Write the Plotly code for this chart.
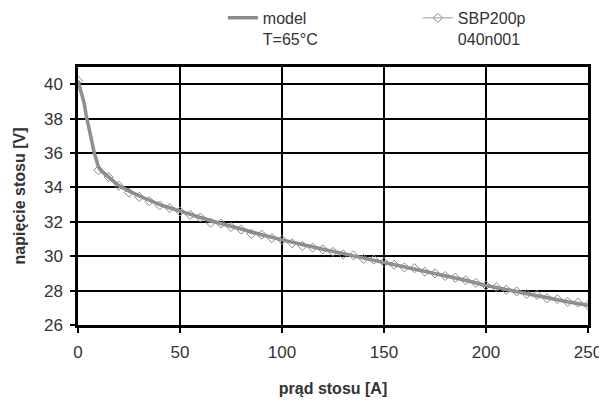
import plotly.graph_objects as go

# model curve, T=65 C
model_i = [0, 1, 2, 3, 4, 5, 6, 7, 8, 9, 10, 12, 15, 20, 25, 30, 40, 50, 60, 70, 80,
           90, 100, 110, 120, 130, 140, 150, 160, 170, 180, 190, 200, 210, 220, 230, 240, 250]
model_u = [40.2, 39.8, 39.3, 38.9, 38.2, 37.6, 37.0, 36.5, 36.0, 35.6, 35.2, 34.9, 34.6,
           34.1, 33.8, 33.5, 33.0, 32.6, 32.25, 31.9, 31.55, 31.25, 30.95, 30.65, 30.4,
           30.15, 29.9, 29.65, 29.4, 29.15, 28.9, 28.6, 28.3, 28.05, 27.8, 27.55, 27.35, 27.15]

# measurement SBP200p 040n001
meas_i = [0, 10, 15, 20, 25, 30, 35, 40, 45, 50, 55, 60, 65, 70, 75, 80, 85, 90, 95, 100,
          105, 110, 115, 120, 125, 130, 135, 140, 145, 150, 155, 160, 165, 170, 175, 180,
          185, 190, 195, 200, 205, 210, 215, 220, 225, 230, 235, 240, 245, 250]
meas_u = [40.2, 35.0, 34.6, 34.1, 33.7, 33.45, 33.2, 32.95, 32.8, 32.6, 32.4, 32.25, 31.95,
          31.9, 31.7, 31.55, 31.3, 31.25, 31.05, 30.95, 30.75, 30.6, 30.5, 30.4, 30.25,
          30.1, 30.05, 29.85, 29.8, 29.65, 29.5, 29.35, 29.3, 29.1, 29.0, 28.85, 28.75,
          28.6, 28.45, 28.3, 28.2, 28.05, 27.95, 27.8, 27.75, 27.55, 27.5, 27.35, 27.3, 27.15]

x_ticks = [0, 50, 100, 150, 200, 250]
y_ticks = [26, 28, 30, 32, 34, 36, 38, 40]

fig = go.Figure()
fig.add_trace(go.Scatter(
    x=model_i, y=model_u, mode='lines', name='model<br>T=65°C',
    line=dict(color='#8a8a8a', width=3.5)
))
fig.add_trace(go.Scatter(
    x=meas_i, y=meas_u, mode='lines+markers', name='SBP200p<br>040n001',
    line=dict(color='#9a9a9a', width=1),
    marker=dict(symbol='diamond-open', size=7, color='#8a8a8a', line=dict(width=1))
))

axis_style = dict(
    showline=True, linecolor='black', linewidth=2.5, mirror=True,
    showgrid=True, gridcolor='black', gridwidth=1.5,
    ticks='outside', ticklen=5, tickcolor='black', tickwidth=1.5,
    zeroline=False, automargin=False,
    tickfont=dict(family='Liberation Sans, Arial', size=17, color='#333'),
)

# the page body adds 8px on the left and top, so the figure is sized to fit
fig.update_layout(
    width=599, height=397,
    margin=dict(l=70, r=19, t=59, b=80, autoexpand=False),
    paper_bgcolor='white', plot_bgcolor='white',
    font=dict(family='Liberation Sans, Arial', color='#333'),
    xaxis=dict(range=[0, 250], tickvals=x_ticks, ticklabelstandoff=5,
               title=dict(text='<b>prąd stosu [A]</b>', font=dict(size=16), standoff=22),
               **axis_style),
    yaxis=dict(range=[26, 41], tickvals=y_ticks, ticklabelstandoff=4,
               title=dict(text='<b>napięcie stosu [V]</b>', font=dict(size=16), standoff=15),
               **axis_style),
    showlegend=True,
    legend=dict(orientation='h', x=0.284, y=1.256, xanchor='left', yanchor='top',
                valign='top', font=dict(size=16, color='#333'),
                entrywidth=150, entrywidthmode='pixels',
                bgcolor='rgba(0,0,0,0)'),
)

fig.write_html("out.html")
